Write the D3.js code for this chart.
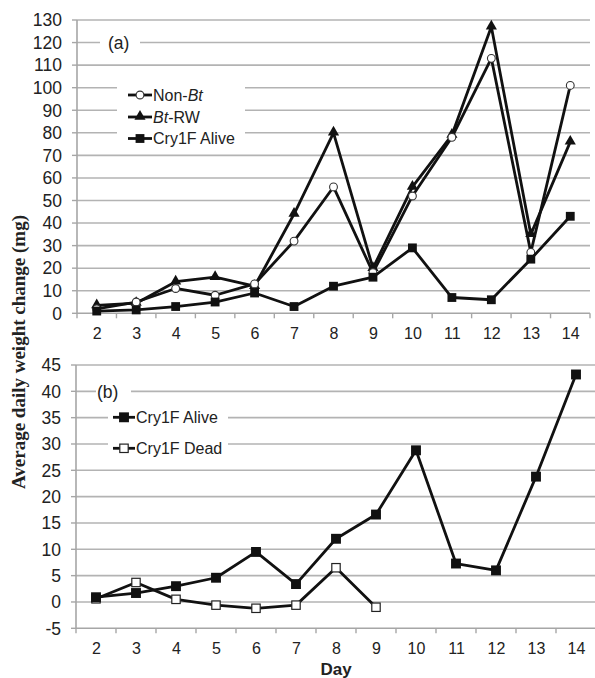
<!DOCTYPE html>
<html><head><meta charset="utf-8">
<script src="https://cdn.jsdelivr.net/npm/d3@7"></script>
<style>body{margin:0;background:#fff}svg{display:block}</style>
</head><body><svg id="c" width="595" height="678"></svg>
<script>
// ---- data ----
const days = [2,3,4,5,6,7,8,9,10,11,12,13,14];
const nonBt = [2,5,11,8,13,32,56,18,52,78,113,27,101];
const btRW = [3.5,4.5,14,16,12,44,80,20,56,79,127,35,76];
const cry1fAliveA = [1,1.5,3,5,9,3,12,16,29,7,6,24,43];
const cry1fAliveB = [0.9,1.7,3,4.6,9.5,3.4,12,16.6,28.8,7.3,6,23.8,43.2];
const cry1fDeadDays = [2,3,4,5,6,7,8,9];
const cry1fDead = [0.6,3.7,0.5,-0.6,-1.2,-0.6,6.5,-1];
const yTicksA = [0,10,20,30,40,50,60,70,80,90,100,110,120,130];
const yTicksB = [-5,0,5,10,15,20,25,30,35,40,45];
const legendA = ["Non-", "Bt-RW", "Cry1F Alive"];
const legendB = ["Cry1F Alive", "Cry1F Dead"];

const svg = d3.select("#c");
const GRID = "#b3b3b3", AXIS = "#a6a6a6", TXT = "#222", LINE = "#111";
const SANS = "'Liberation Sans', Arial, sans-serif";

function panel(cfg) {
  const x = d3.scaleBand().domain(days).range(cfg.xr);
  const cx = d => x(d) + x.bandwidth() / 2;
  const y = d3.scaleLinear().domain(cfg.yd).range(cfg.yr);
  const g = svg.append("g");
  g.selectAll(null).data(cfg.ticks.filter(t => t !== cfg.yd[0])).enter().append("line")
    .attr("x1", cfg.xr[0]).attr("x2", cfg.xr[1]).attr("y1", d => y(d)).attr("y2", d => y(d))
    .attr("stroke", GRID).attr("stroke-width", 1.6);
  g.selectAll(null).data(cfg.ticks).enter().append("line")
    .attr("x1", cfg.xr[0] - 5).attr("x2", cfg.xr[0]).attr("y1", d => y(d)).attr("y2", d => y(d))
    .attr("stroke", AXIS).attr("stroke-width", 1.4);
  g.append("line").attr("x1", cfg.xr[0]).attr("x2", cfg.xr[0]).attr("y1", cfg.yr[0]).attr("y2", cfg.yr[1])
    .attr("stroke", AXIS).attr("stroke-width", 1.6);
  g.append("line").attr("x1", cfg.xr[0]).attr("x2", cfg.xr[1]).attr("y1", cfg.yr[0]).attr("y2", cfg.yr[0])
    .attr("stroke", AXIS).attr("stroke-width", 1.6);
  const bounds = days.map(d => x(d)).concat([cfg.xr[1]]);
  g.selectAll(null).data(bounds).enter().append("line")
    .attr("x1", d => d).attr("x2", d => d).attr("y1", cfg.yr[0]).attr("y2", cfg.yr[0] + 5)
    .attr("stroke", AXIS).attr("stroke-width", 1.4);
  g.selectAll(null).data(cfg.ticks).enter().append("text")
    .attr("x", cfg.xr[0] - 15).attr("y", d => y(d)).attr("dy", "0.36em")
    .attr("text-anchor", "end").attr("font-family", SANS).attr("font-size", 17.5).attr("fill", TXT)
    .text(d => d);
  g.selectAll(null).data(days).enter().append("text")
    .attr("x", d => cx(d) + 0.5).attr("y", cfg.yr[0] + 26)
    .attr("text-anchor", "middle").attr("font-family", SANS).attr("font-size", 16).attr("fill", TXT)
    .text(d => d);
  return {x, cx, y, g};
}

const A = panel({xr: [77, 590], yr: [313.3, 20], yd: [0, 130], ticks: yTicksA});
const B = panel({xr: [76, 596], yr: [628.3, 365], yd: [-5, 45], ticks: yTicksB});

const sq = d3.symbol().type(d3.symbolSquare).size(78);
const sqB = d3.symbol().type(d3.symbolSquare).size(98);
const tri = d3.symbol().type(d3.symbolTriangle).size(54);

function series(P, xs, vals, kind, big) {
  const pts = xs.map((d, i) => [P.cx(d), P.y(vals[i])]);
  P.g.append("path").attr("d", d3.line()(pts)).attr("fill", "none")
    .attr("stroke", LINE).attr("stroke-width", 2.8).attr("stroke-linejoin", "round");
  drawMarkers(P.g, pts, kind, big);
}
function drawMarkers(g, pts, kind, big) {
  pts.forEach(p => {
    if (kind === "circle") {
      g.append("circle").attr("cx", p[0]).attr("cy", p[1]).attr("r", 3.9)
        .attr("fill", "#fff").attr("stroke", "#333").attr("stroke-width", 1.1);
    } else if (kind === "tri") {
      g.append("path").attr("d", tri()).attr("transform", `translate(${p[0]},${p[1] - 0.5})`).attr("fill", LINE);
    } else if (kind === "sq") {
      g.append("path").attr("d", (big ? sqB : sq)()).attr("transform", `translate(${p[0]},${p[1]})`).attr("fill", LINE);
    } else if (kind === "osq") {
      g.append("rect").attr("x", p[0] - 4.2).attr("y", p[1] - 4.2).attr("width", 8.4).attr("height", 8.4)
        .attr("fill", "#fff").attr("stroke", "#222").attr("stroke-width", 1.2);
    }
  });
}

A.g.append("rect").attr("x", 100).attr("y", 32).attr("width", 40).attr("height", 22).attr("fill", "#fff");
A.g.append("text").attr("x", 108).attr("y", 42.6).attr("dy", "0.36em").attr("font-family", SANS)
  .attr("font-size", 17.5).attr("fill", TXT).text("(a)");
A.g.append("rect").attr("x", 117).attr("y", 84).attr("width", 128).attr("height", 62).attr("fill", "#fff");

series(A, days, btRW, "tri");
series(A, days, nonBt, "circle");
series(A, days, cry1fAliveA, "sq");

const legAY = [95, 117, 138.5];
const legAKinds = ["circle", "tri", "sq"];
legAY.forEach((ly, i) => {
  A.g.append("line").attr("x1", 128).attr("x2", 152).attr("y1", ly).attr("y2", ly)
    .attr("stroke", LINE).attr("stroke-width", 2.8);
  drawMarkers(A.g, [[140, ly]], legAKinds[i]);
});
const tA0 = A.g.append("text").attr("x", 153).attr("y", legAY[0]).attr("dy", "0.36em")
  .attr("font-family", SANS).attr("font-size", 16).attr("fill", TXT);
tA0.append("tspan").text(legendA[0]);
tA0.append("tspan").attr("font-style", "italic").text("Bt");
const tA1 = A.g.append("text").attr("x", 153).attr("y", legAY[1]).attr("dy", "0.36em")
  .attr("font-family", SANS).attr("font-size", 16).attr("fill", TXT);
tA1.append("tspan").attr("font-style", "italic").text(legendA[1].split("-")[0]);
tA1.append("tspan").text("-" + legendA[1].split("-")[1]);
A.g.append("text").attr("x", 153).attr("y", legAY[2]).attr("dy", "0.36em")
  .attr("font-family", SANS).attr("font-size", 16).attr("fill", TXT).text(legendA[2]);

B.g.append("rect").attr("x", 96).attr("y", 380).attr("width", 35).attr("height", 22).attr("fill", "#fff");
B.g.append("text").attr("x", 97).attr("y", B.y(40)).attr("dy", "0.36em").attr("font-family", SANS)
  .attr("font-size", 17.5).attr("fill", TXT).text("(b)");
B.g.append("rect").attr("x", 108).attr("y", 405).attr("width", 120).attr("height", 55).attr("fill", "#fff");

series(B, cry1fDeadDays, cry1fDead, "osq");
series(B, days, cry1fAliveB, "sq", true);

const legBY = [417.3, 448.3];
const legBKinds = ["sq", "osq"];
legBY.forEach((ly, i) => {
  B.g.append("line").attr("x1", 113).attr("x2", 135).attr("y1", ly).attr("y2", ly)
    .attr("stroke", LINE).attr("stroke-width", 2.8);
  drawMarkers(B.g, [[124, ly]], legBKinds[i], true);
  B.g.append("text").attr("x", 136).attr("y", ly).attr("dy", "0.36em")
    .attr("font-family", SANS).attr("font-size", 16).attr("fill", TXT).text(legendB[i]);
});

svg.append("text").attr("x", 336).attr("y", 675).attr("text-anchor", "middle")
  .attr("font-family", SANS).attr("font-weight", "bold").attr("font-size", 17).attr("fill", TXT).text("Day");
svg.append("text").attr("transform", "translate(25,352) rotate(-90)").attr("text-anchor", "middle")
  .attr("font-family", "'Liberation Serif', 'Times New Roman', serif").attr("font-weight", "bold")
  .attr("font-size", 19).attr("fill", TXT).text("Average daily weight change (mg)");
</script></body></html>
